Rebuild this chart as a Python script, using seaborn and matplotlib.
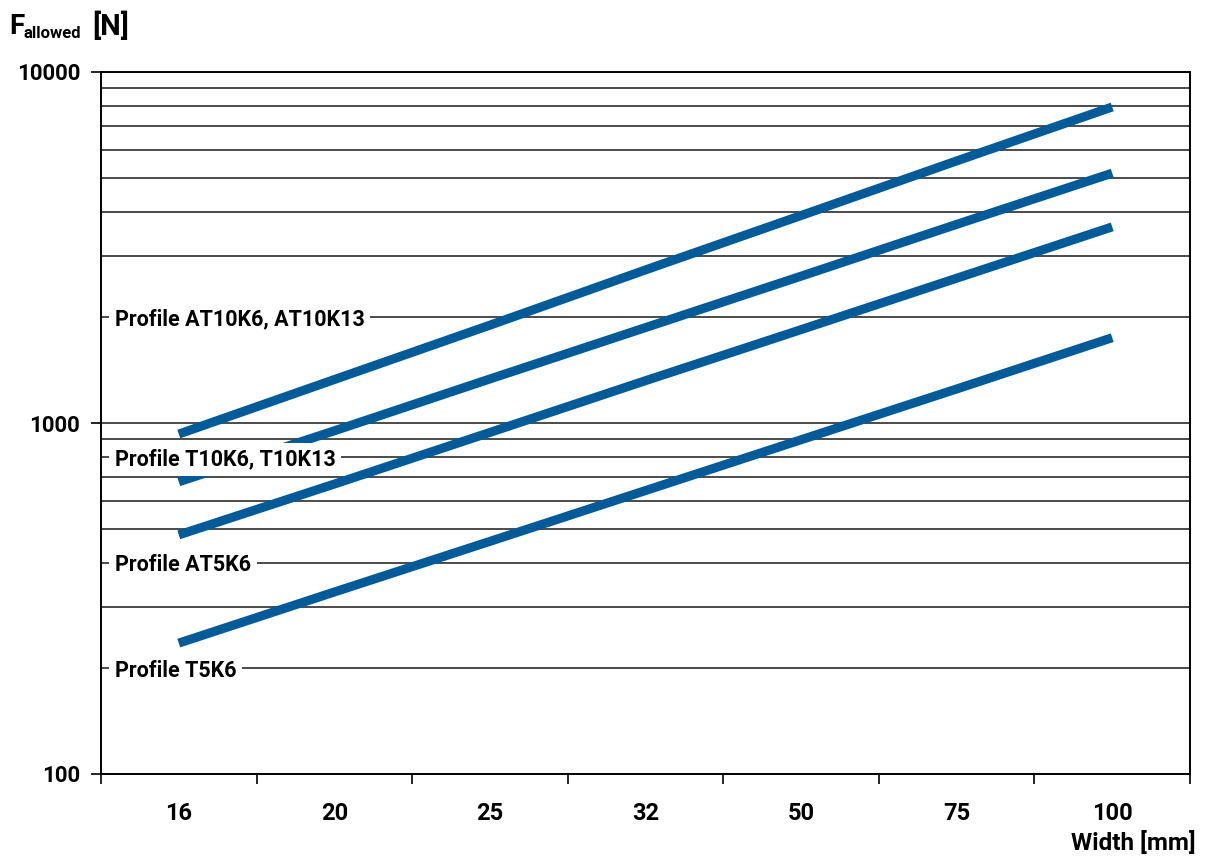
import numpy as np
import pandas as pd
import matplotlib
matplotlib.use("Agg")
import matplotlib.pyplot as plt
import seaborn as sns
from matplotlib.ticker import FixedLocator, NullFormatter

# chart data
widths = ["16", "20", "25", "32", "50", "75", "100"]
profiles = ["AT10K6, AT10K13", "T10K6, T10K13", "AT5K6", "T5K6"]
f_at10 = [930, 1330, 1900, 2730, 3900, 5580, 7950]
f_t10 = [680, 950, 1335, 1870, 2620, 3680, 5150]
f_at5 = [480, 670, 940, 1320, 1845, 2585, 3620]
f_t5 = [236, 330, 460, 642, 896, 1250, 1750]
label_levels = [2000, 800, 400, 200]

rows = []
for name, vals in zip(profiles, [f_at10, f_t10, f_at5, f_t5]):
    for i, v in enumerate(vals):
        rows.append({"pos": i, "width": widths[i], "profile": name, "force": v})
df = pd.DataFrame(rows)

sns.set_theme(style="white")
plt.rcParams["font.family"] = ["Roboto", "DejaVu Sans"]
plt.rcParams["font.weight"] = "bold"
plt.rcParams["text.color"] = "black"
plt.rcParams["xtick.color"] = "black"
plt.rcParams["ytick.color"] = "black"

blue = "#005b98"
fig = plt.figure(figsize=(12.06, 8.57), dpi=100)
ax = fig.add_axes([101 / 1206, 1 - 774 / 857, 1089 / 1206, 702 / 857])

sns.lineplot(data=df, x="pos", y="force", hue="profile",
             palette=[blue] * 4, linewidth=6.5, legend=False, ax=ax,
             solid_capstyle="butt", zorder=3)

ax.set_yscale("log")
ax.set_ylim(100, 10000)
ax.set_xlim(-0.5, len(widths) - 0.5)

# grid lines at every decade step
ax.yaxis.set_major_locator(FixedLocator([100, 1000, 10000]))
ax.yaxis.set_minor_locator(FixedLocator(
    [m * d for d in (100, 1000) for m in range(2, 10)]))
ax.yaxis.set_minor_formatter(NullFormatter())
ax.set_yticklabels(["100", "1000", "10000"])
ax.grid(True, which="both", axis="y", color="#1a1a1a", linewidth=1.1, zorder=1)
ax.tick_params(axis="y", which="major", direction="out", length=7, width=1.2,
               color="black", labelsize=16, pad=8, left=True)
ax.tick_params(axis="y", which="minor", length=0)

# x: labels at centres, tick marks between the categories
ax.set_xticks(range(len(widths)))
ax.set_xticklabels(widths)
ax.xaxis.set_minor_locator(FixedLocator(np.arange(-0.5, len(widths), 1.0)))
ax.tick_params(axis="x", which="major", length=0, labelsize=17, pad=20)
ax.tick_params(axis="x", which="minor", direction="out", length=7, width=1.2,
               color="black", bottom=True)
for lbl in ax.get_xticklabels() + ax.get_yticklabels():
    lbl.set_fontweight("bold")
    lbl.set_color("black")

for side in ["left", "bottom", "right", "top"]:
    ax.spines[side].set_color("black")
    ax.spines[side].set_linewidth(1.4)
ax.set_xlabel("")
ax.set_ylabel("")

# profile labels sitting on grid lines
for name, lvl in zip(profiles, label_levels):
    ax.text(-0.41, lvl * 0.985, "Profile " + name, fontsize=15.5, fontweight="bold",
            ha="left", va="center", zorder=5,
            bbox=dict(facecolor="white", edgecolor="none", pad=4))

# axis titles
fig.text(9 / 1206, 1 - 34 / 857, "F", fontsize=20, fontweight="bold")
fig.text(23 / 1206, 1 - 38 / 857, "allowed", fontsize=12, fontweight="bold")
fig.text(92 / 1206, 1 - 35 / 857, "[N]", fontsize=21, fontweight="bold")
fig.text(1196 / 1206, 1 - 855 / 857, "Width [mm]", fontsize=17.5,
         fontweight="bold", ha="right", va="bottom")

fig.savefig("out.png", dpi=100)
